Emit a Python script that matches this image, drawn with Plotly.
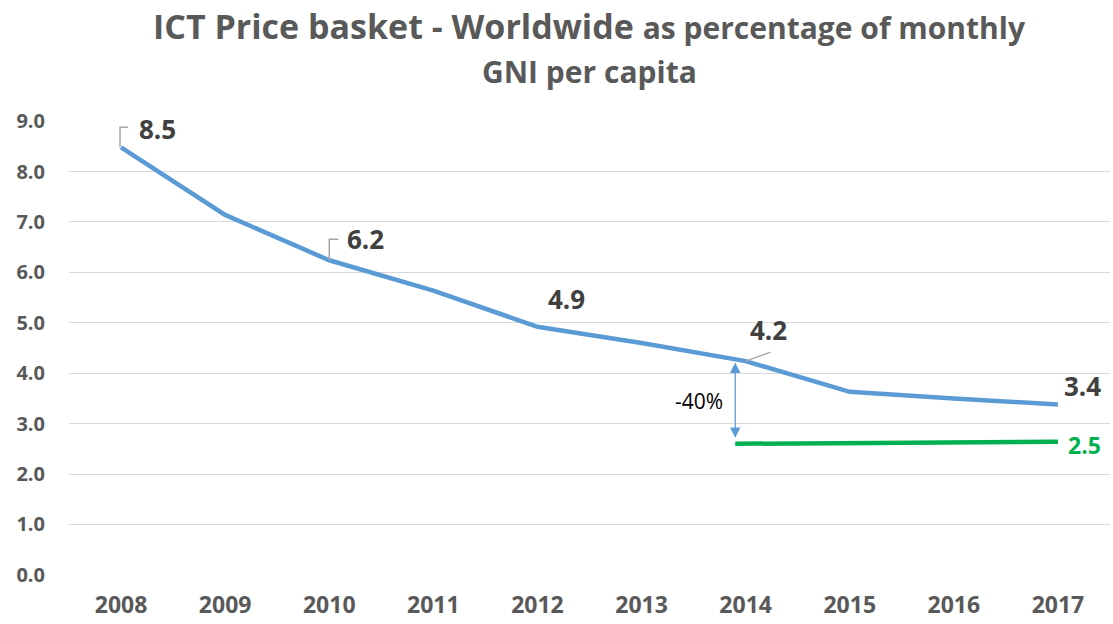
import plotly.graph_objects as go

# ---- data ----
years = [2008, 2009, 2010, 2011, 2012, 2013, 2014, 2015, 2016, 2017]
price_basket = [8.48, 7.14, 6.24, 5.64, 4.92, 4.60, 4.24, 3.63, 3.50, 3.38]
target_years = [2013.9, 2017]
target_values = [2.60, 2.64]
target_label = "2.5"
labelled_years = [2008, 2010, 2012, 2014, 2017]
label_shifts_x = [36, 36, 29, 23, 25]
label_shifts_y = [18, 21, 28, 31, 18]
ytick_vals = [0, 1, 2, 3, 4, 5, 6, 7, 8, 9]
ytick_text = ["0.0", "1.0", "2.0", "3.0", "4.0", "5.0", "6.0", "7.0", "8.0", "9.0"]
change_text = "-40%"
title_main = "ICT Price basket - Worldwide"
title_rest = "as percentage of monthly"
title_line2 = "GNI per capita"

FONT = "Open Sans"
BLUE = "#5B9BD5"
GREEN = "#00B050"
GREY_TXT = "#595959"
DARK_TXT = "#404040"

fig = go.Figure()
fig.add_trace(go.Scatter(x=years, y=price_basket, mode="lines",
                         line=dict(color=BLUE, width=4.5), hoverinfo="skip"))
fig.add_trace(go.Scatter(x=target_years, y=target_values, mode="lines",
                         line=dict(color=GREEN, width=4.5), hoverinfo="skip"))

annotations = []
val = dict(zip(years, price_basket))
for yr, dx, dy in zip(labelled_years, label_shifts_x, label_shifts_y):
    annotations.append(dict(x=yr, y=val[yr], xref="x", yref="y", text=f"<b>{val[yr]:.1f}</b>",
                            showarrow=False, xshift=dx, yshift=dy,
                            font=dict(family=FONT, size=26, color=DARK_TXT)))
annotations.append(dict(x=target_years[-1], y=target_values[-1], xref="x", yref="y",
                        text=f"<b>{target_label}</b>", showarrow=False, xshift=27, yshift=-3,
                        font=dict(family=FONT, size=23, color=GREEN)))
# double-headed arrow
annotations.append(dict(x=target_years[0], y=target_values[0], ax=target_years[0], ay=val[2014],
                        xref="x", yref="y", axref="x", ayref="y", text="", showarrow=True,
                        arrowside="end+start", arrowhead=2, arrowsize=1.6, arrowwidth=1.3,
                        arrowcolor=BLUE, standoff=6, startstandoff=0))
annotations.append(dict(x=target_years[0], y=(target_values[0] + val[2014]) / 2, xref="x", yref="y",
                        text=change_text, showarrow=False, xshift=-36, yshift=1,
                        font=dict(family=FONT, size=21, color="#000000")))
# title (two lines)
annotations.append(dict(x=0.5, y=1.209, xref="paper", yref="paper", xanchor="center", yanchor="middle",
                        text=f"<b>{title_main} <span style='font-size:30px'>{title_rest}</span></b>",
                        showarrow=False, font=dict(family=FONT, size=34, color=GREY_TXT)))
annotations.append(dict(x=0.5, y=1.108, xref="paper", yref="paper", xanchor="center", yanchor="middle",
                        text=f"<b>{title_line2}</b>",
                        showarrow=False, font=dict(family=FONT, size=30, color=GREY_TXT)))

shapes = []
lead = dict(color="#A6A6A6", width=1.5)
shapes.append(dict(type="path", xref="x", yref="y", xsizemode="pixel", ysizemode="pixel",
                   xanchor=2008, yanchor=val[2008], path="M-1,0 L-1,20 L7,20", line=lead))
shapes.append(dict(type="path", xref="x", yref="y", xsizemode="pixel", ysizemode="pixel",
                   xanchor=2010, yanchor=val[2010], path="M0,0 L0,21 L9,21", line=lead))
shapes.append(dict(type="path", xref="x", yref="y", xsizemode="pixel", ysizemode="pixel",
                   xanchor=2014, yanchor=val[2014], path="M0,0 L25,9", line=lead))

fig.update_layout(
    width=1113, height=624,
    paper_bgcolor="white", plot_bgcolor="white",
    margin=dict(l=69, r=3, t=121, b=49, autoexpand=False),
    showlegend=False,
    xaxis=dict(range=[2007.5, 2017.5], tickvals=years, ticktext=[f"<b>{y}</b>" for y in years],
               showgrid=False, zeroline=False, showline=False, ticks="",
               tickfont=dict(family=FONT, size=23, color=GREY_TXT), ticklabelstandoff=14),
    yaxis=dict(range=[-0.002, 9.002], tickvals=ytick_vals, ticktext=[f"<b>{t}</b>" for t in ytick_text],
               showgrid=True, gridcolor="#D9D9D9", gridwidth=1, zeroline=False, showline=False,
               ticks="", tickfont=dict(family=FONT, size=20, color=GREY_TXT), ticklabelstandoff=23),
    annotations=annotations,
    shapes=shapes,
)

fig.write_html("out.html", config={"displayModeBar": False},
               post_script="document.body.style.margin='0';")
